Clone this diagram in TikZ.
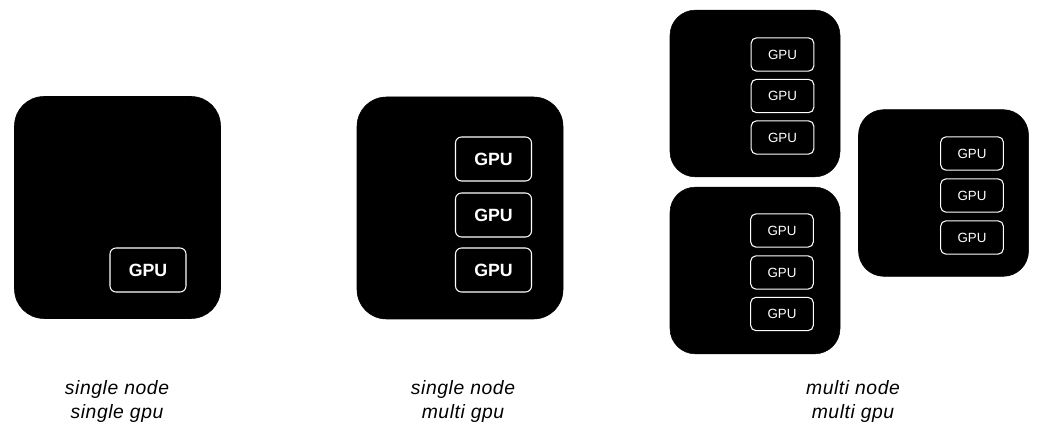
\documentclass[tikz,border=0pt]{standalone}
\usepackage{fontspec}
\setmainfont{Liberation Sans}
\newfontfamily\labelfont{Liberation Sans}[LetterSpace=3]
\usetikzlibrary{positioning}
\tikzset{
  server/.style={fill=black,draw=black,rounded corners=22pt,minimum width=154.5pt,minimum height=166.5pt,inner sep=0pt},
  smallserver/.style={fill=black,draw=black,rounded corners=19pt,minimum width=127.5pt,minimum height=125pt,inner sep=0pt},
  gpu/.style={draw=white,line width=0.8pt,rounded corners=4.5pt,text=white,font=\bfseries\fontsize{13.3}{15}\selectfont,minimum width=57pt,minimum height=33pt,inner sep=0pt},
  smallgpu/.style={draw=white,line width=0.8pt,rounded corners=4pt,text=white,font=\fontsize{10}{12}\selectfont,minimum width=47pt,minimum height=25pt,inner sep=0pt},
  caption/.style={align=center,font=\labelfont\itshape\fontsize{14.5}{18}\selectfont}
}
\begin{document}
\begin{tikzpicture}[x=0.75pt,y=-0.75pt]
  \useasboundingbox (0,0) rectangle (1044,448);
  % single node, single gpu
  \node[server] (one) at (117.5,207.5) {};
  \node[gpu] (one1) at (148,270) {GPU};
  % single node, multi gpu
  \node[server] (two) at (460,208) {};
  \foreach \i/\y in {1/159,2/215,3/270}
    \node[gpu] (two\i) at (493.5,\y) {GPU};
  % multi node, multi gpu
  \node[smallserver] (top) at (755,93.5) {};
  \node[smallserver] (bot) at (755,270.5) {};
  \node[smallserver] (right) at (943.5,193) {};
  \foreach \i/\y in {1/54.5,2/96,3/137.5}
    \node[smallgpu] (top\i) at (782.5,\y) {GPU};
  \foreach \i/\y in {1/230.5,2/272.5,3/314}
    \node[smallgpu] (bot\i) at (782,\y) {GPU};
  \foreach \i/\y in {1/153.5,2/195.5,3/237.5}
    \node[smallgpu] (right\i) at (972,\y) {GPU};
  % captions
  \node[caption] (capone) at (117,402) {single node\\single gpu};
  \node[caption] (captwo) at (463,402) {single node\\multi gpu};
  \node[caption] (capmulti) at (853,402) {multi node\\multi gpu};
\end{tikzpicture}
\end{document}
